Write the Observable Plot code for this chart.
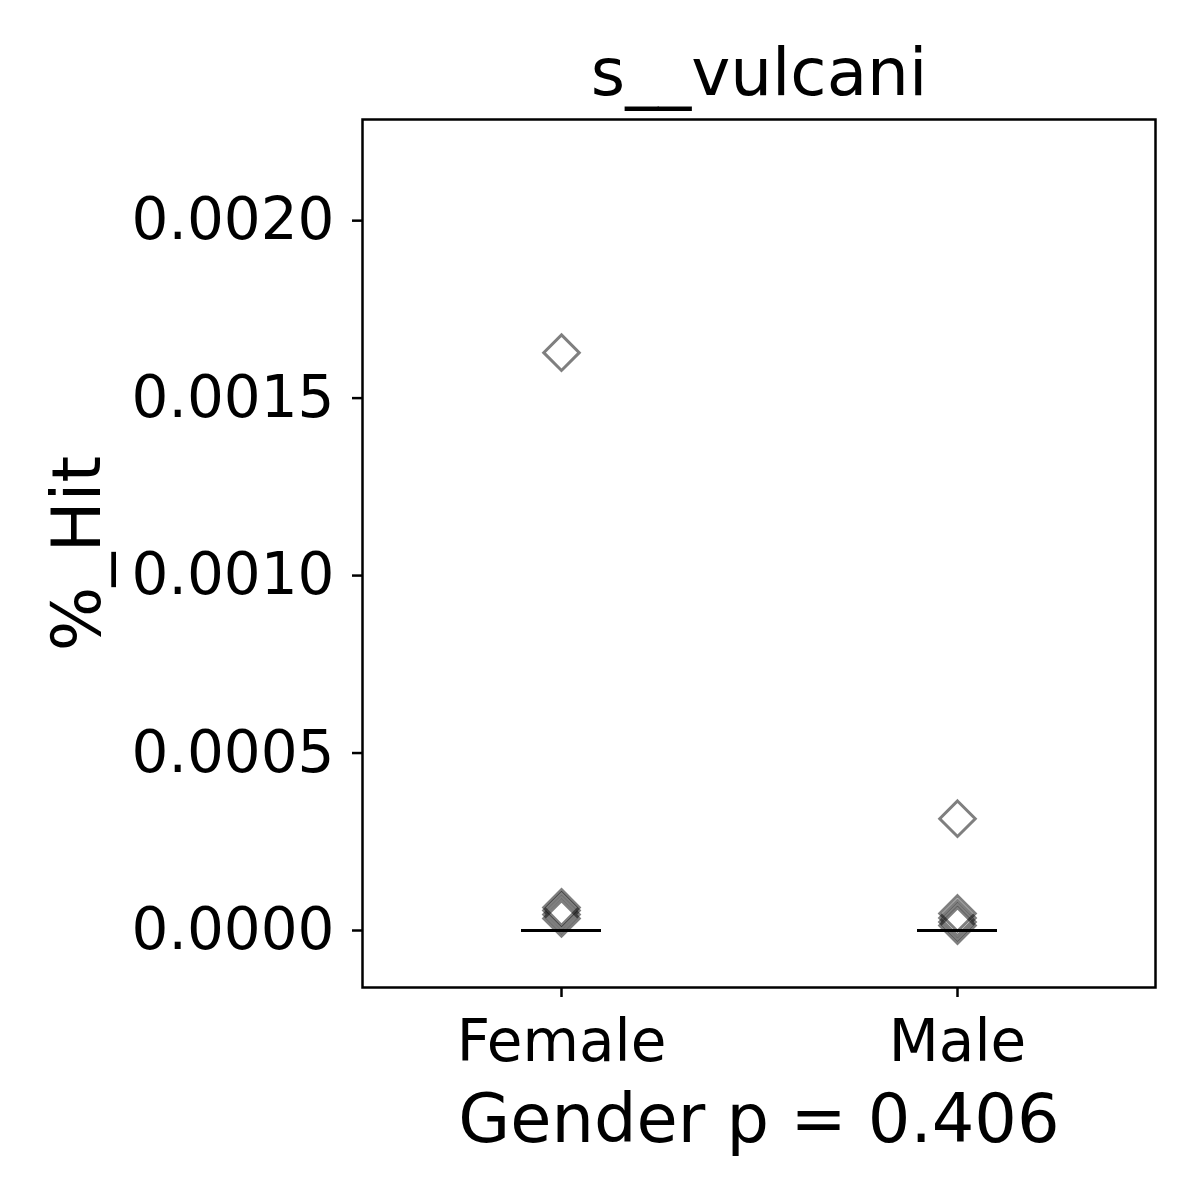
<!DOCTYPE html>
<html>
<head>
<meta charset="utf-8">
<script src="https://cdn.jsdelivr.net/npm/d3@7"></script>
<script src="https://cdn.jsdelivr.net/npm/@observablehq/plot@0.6"></script>
<style>
  html, body { margin: 0; padding: 0; background: #fff; }
  svg { font-family: "DejaVu Sans", sans-serif; }
</style>
</head>
<body>
<div id="chart"></div>
<script>
const title = "s__vulcani";
const xLabel = "Gender p = 0.406";
const yLabel = "%_Hit";
const groups = ["Female", "Male"];
const femaleValues = [0.001628, 0.000065, 0.000056, 0.000045, 0.000034];
const maleValues = [0.000315, 0.000048, 0.000035, 0.000024, 0.000014];
const medians = [0, 0];
const yTicks = [0, 0.0005, 0.001, 0.0015, 0.002];

const points = [
  ...femaleValues.map(v => ({group: "Female", value: v})),
  ...maleValues.map(v => ({group: "Male", value: v}))
];
const medianRows = groups.map((g, i) => ({group: g, value: medians[i]}));

const chart = Plot.plot({
  width: 1200,
  height: 1200,
  marginLeft: 362,
  marginRight: 45,
  marginTop: 119,
  marginBottom: 213,
  style: {fontFamily: "DejaVu Sans, sans-serif", background: "#fff"},
  x: {type: "band", domain: groups, paddingInner: 0.7985, paddingOuter: 0.398, label: null},
  y: {domain: [-0.0001606, 0.002285], label: null},
  marks: [
    Plot.frame({stroke: "black", strokeWidth: 2.5}),
    Plot.axisY({ticks: yTicks, tickFormat: d3.format(".4f"), tickSize: 10, tickPadding: 18, fontSize: 58, strokeWidth: 2.5, label: null}),
    Plot.axisX({tickSize: 10, tickPadding: 22, fontSize: 58, strokeWidth: 2.5, label: null}),
    Plot.tickY(medianRows, {x: "group", y: "value", stroke: "black", strokeWidth: 3}),
    Plot.dot(points, {x: "group", y: "value", symbol: "diamond2", r: 16, fill: "none", stroke: "black", strokeOpacity: 0.5, strokeWidth: 3}),
    Plot.text([title], {frameAnchor: "top", dy: -46, fontSize: 66, lineAnchor: "middle", textAnchor: "middle", text: d => d, fill: "black"}),
    Plot.text([xLabel], {frameAnchor: "bottom", dy: 133, fontSize: 67, lineAnchor: "middle", textAnchor: "middle", text: d => d, fill: "black"}),
    Plot.text([yLabel], {frameAnchor: "left", dx: -284, rotate: -90, fontSize: 68, lineAnchor: "middle", textAnchor: "middle", text: d => d, fill: "black"})
  ]
});
document.getElementById("chart").appendChild(chart);
</script>
</body>
</html>
